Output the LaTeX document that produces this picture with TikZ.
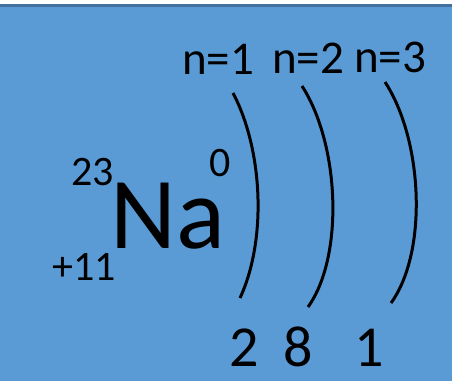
\documentclass[tikz,border=0pt]{standalone}
\usepackage{fontspec}
\setmainfont{Carlito}
\definecolor{bgblue}{HTML}{5B9BD5}
\definecolor{edgeblue}{HTML}{41719C}
\begin{document}
\begin{tikzpicture}[x=1pt,y=-1pt,
  lbl/.style={inner sep=0pt,anchor=base west,text=black},
  shell/.style={line width=3pt,black}]
\useasboundingbox (0,0) rectangle (452,380);
\fill[white] (0,0) rectangle (452,380);
\draw[fill=bgblue,draw=edgeblue,line width=2.5pt] (-10,5.5) rectangle (462,395);
% labels
\node[lbl,font=\fontsize{47}{47}\selectfont] (n1) at (182,74) {n=1};
\node[lbl,font=\fontsize{47}{47}\selectfont] (n2) at (272,73) {n=2};
\node[lbl,font=\fontsize{47}{47}\selectfont] (n3) at (354,72) {n=3};
\node[lbl,font=\fontsize{102}{102}\selectfont] (na) at (110,248) {Na};
\node[lbl,font=\fontsize{42}{42}\selectfont] (mass) at (71,185) {23};
\node[lbl,font=\fontsize{42}{42}\selectfont] (charge) at (52,280) {+11};
\node[lbl,font=\fontsize{42}{42}\selectfont] (ox) at (209,176) {0};
\node[lbl,font=\fontsize{58}{58}\selectfont] (e1) at (229,366) {2};
\node[lbl,font=\fontsize{58}{58}\selectfont] (e2) at (283,366) {8};
\node[lbl,font=\fontsize{58}{58}\selectfont] (e3) at (354,366) {1};
% shells
\coordinate (a1) at (233,93); \coordinate (b1) at (240,298);
\coordinate (a2) at (302,86); \coordinate (b2) at (308,307);
\coordinate (a3) at (385,82); \coordinate (b3) at (391,303);
\draw[shell] (a1) .. controls (263,150) and (267,240) .. (b1);
\draw[shell] (a2) .. controls (340,145) and (344,257) .. (b2);
\draw[shell] (a3) .. controls (423,140) and (428,252) .. (b3);
\end{tikzpicture}
\end{document}
